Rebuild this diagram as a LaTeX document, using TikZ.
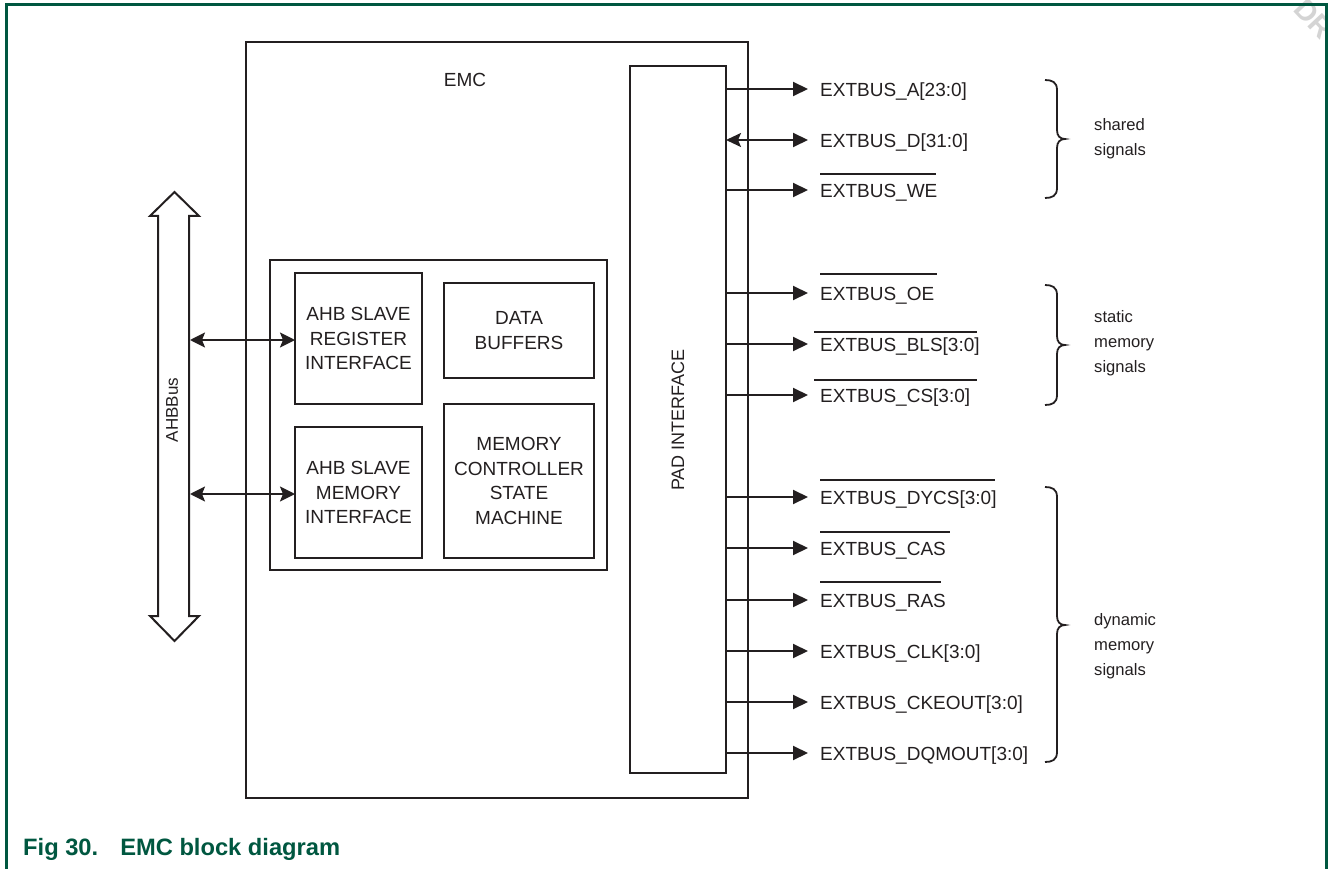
\documentclass[tikz,border=0pt]{standalone}
\usepackage{fontspec}
\setmainfont{Liberation Sans}
\usetikzlibrary{arrows.meta}
\definecolor{nxpgreen}{RGB}{0,87,64}
\definecolor{ink}{RGB}{35,31,32}
\newcommand{\sigbrace}[3]{%
  \draw[bracestyle] (1045,#1) .. controls (1052,#1) and (1057,{#1+2}) .. (1057,{#1+10})
    -- (1057,{#2-9}) .. controls (1057,{#2-3}) and (1060,#2) .. (1065,#2)
    .. controls (1060,#2) and (1057,{#2+3}) .. (1057,{#2+9})
    -- (1057,{#3-10}) .. controls (1057,{#3-2}) and (1052,#3) .. (1045,#3);}
\begin{document}
\begin{tikzpicture}[x=1pt,y=-1pt,
  blk/.style={draw=ink, line width=2pt, inner sep=0pt, outer sep=0pt,
    align=center, text=ink, font=\fontsize{19}{24.5}\selectfont},
  lbl/.style={text=ink, inner sep=0pt, font=\fontsize{19}{23}\selectfont},
  grp/.style={text=ink, inner sep=0pt, align=left, font=\fontsize{16.6}{25}\selectfont},
  sig/.style={draw=ink, line width=2pt, -{Triangle[length=15pt,width=14pt]}},
  bsig/.style={draw=ink, line width=2pt, {Stealth[length=15pt,width=14pt,inset=3pt]}-{Triangle[length=15pt,width=14pt]}},
  ahb/.style={draw=ink, line width=2pt, {Stealth[length=15pt,width=15pt,inset=3pt]}-{Stealth[length=15pt,width=15pt,inset=3pt]}},
  ovl/.style={draw=ink, line width=1.8pt},
  bracestyle/.style={draw=ink, line width=1.8pt},
  frame/.style={draw=nxpgreen, line width=2.2pt}]
\useasboundingbox (0,0) rectangle (1328,869);

% watermark (only the visible part)
\begin{scope}
\clip (0,0) rectangle (1328,869);
\node[rotate=-47, anchor=base west, inner sep=0pt, text=black!17,
  font=\bfseries\fontsize{29}{29}\selectfont] (wm) at (1292,10) {DR};
\end{scope}

% frame
\draw[frame] (6.5,869) -- (6.5,4.5) -- (1326.5,4.5) -- (1326.5,869);

% EMC main box
\node[blk, minimum width=502pt, minimum height=756pt] (emc) at (497,420) {};
\node[lbl] (emclbl) at (465,80) {EMC};

% PAD interface
\node[blk, minimum width=96pt, minimum height=707pt] (pad) at (678,419.5) {};
\node[lbl, rotate=90, font=\fontsize{18}{22}\selectfont] (padlbl) at (678,420) {PAD INTERFACE};

% inner box and blocks
\node[blk, minimum width=337pt, minimum height=310pt] (inner) at (438.5,415) {};
\node[blk, minimum width=127pt, minimum height=131pt] (reg) at (358.5,338.5) {AHB SLAVE\\REGISTER\\INTERFACE};
\node[blk, minimum width=127pt, minimum height=131pt] (mem) at (358.5,492.5) {AHB SLAVE\\MEMORY\\INTERFACE};
\node[blk, minimum width=150pt, minimum height=95pt] (buf) at (519,330.5) {DATA\\BUFFERS};
\node[blk, minimum width=150pt, minimum height=154pt] (mc) at (519,481) {MEMORY\\CONTROLLER\\STATE\\MACHINE};

% AHB bus hollow double arrow
\draw[draw=ink, line width=2pt, line join=miter] (158,216) -- (150,216) -- (174.5,192) -- (199,216) -- (189,216)
  -- (189,616) -- (199,616) -- (174.5,641) -- (150,616) -- (158,616) -- cycle;
\node[lbl, rotate=90, font=\fontsize{17}{20}\selectfont] (bus) at (172,410) {AHBBus};
\coordinate (busA) at (190,340);
\coordinate (busB) at (190,494);
\draw[ahb] (busA) -- (busA -| reg.west);
\draw[ahb] (busB) -- (busB -| mem.west);

% signals
\foreach \nm/\yy/\txt in {A/89/EXTBUS\_A[23:0], WE/190/EXTBUS\_WE,
   OE/293/EXTBUS\_OE, BLS/344/EXTBUS\_BLS[3:0], CS/395/EXTBUS\_CS[3:0],
   DYCS/497/EXTBUS\_DYCS[3:0], CAS/548/EXTBUS\_CAS, RAS/600/EXTBUS\_RAS,
   CLK/651/EXTBUS\_CLK[3:0], CKE/702/EXTBUS\_CKEOUT[3:0], DQM/753/EXTBUS\_DQMOUT[3:0]}{
  \coordinate (t\nm) at (808,\yy);
  \node[lbl, anchor=base west] (l\nm) at (820,\yy+7.5) {\txt};
  \draw[sig] (t\nm -| pad.east) -- (t\nm);
}
\coordinate (tD) at (808,140);
\node[lbl, anchor=base west] (lD) at (820,147.5) {EXTBUS\_D[31:0]};
\draw[bsig] (tD -| pad.east) -- (tD);

% overlines
\draw[ovl] (820,174) -- (936,174);
\draw[ovl] (820,274) -- (937,274);
\draw[ovl] (814,332) -- (977,332);
\draw[ovl] (814,380) -- (977,380);
\draw[ovl] (820,480) -- (995,480);
\draw[ovl] (820,532) -- (950,532);
\draw[ovl] (820,582) -- (941,582);

% braces
\sigbrace{80}{139}{198}
\sigbrace{285}{345}{405}
\sigbrace{487}{625}{762}

\node[grp, anchor=west] (g1) at (1094,139) {shared\\signals};
\node[grp, anchor=west] (g2) at (1094,343) {static\\memory\\signals};
\node[grp, anchor=west] (g3) at (1094,646) {dynamic\\memory\\signals};

% caption
\node[anchor=base west, inner sep=0pt, text=nxpgreen,
  font=\bfseries\fontsize{23.7}{28}\selectfont] (cap) at (23,855) {Fig 30.\hspace{22pt}EMC block diagram};
\end{tikzpicture}
\end{document}
